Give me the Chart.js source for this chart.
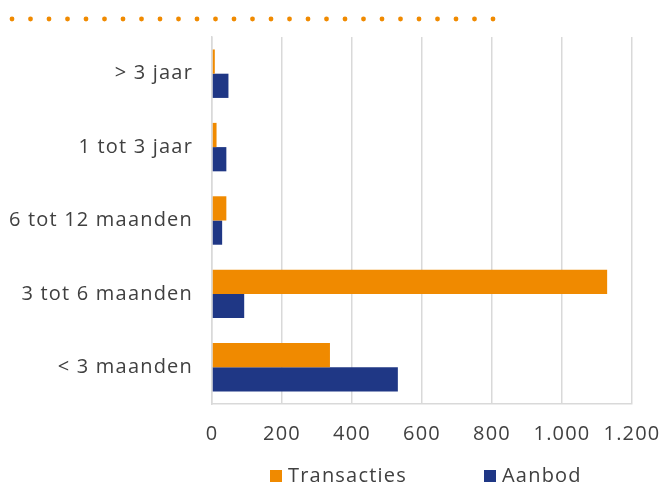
<!DOCTYPE html>
<html>
<head>
<meta charset="utf-8">
<script src="https://cdn.jsdelivr.net/npm/chart.js@4.4.1/dist/chart.umd.min.js"></script>
<style>
  html, body { margin: 0; padding: 0; background: #fff; }
  #wrap { width: 663px; height: 484px; position: relative; }
</style>
</head>
<body>
<div id="wrap"><canvas id="chart"></canvas></div>
<script>
// categories, top to bottom
const categories = ['> 3 jaar', '1 tot 3 jaar', '6 tot 12 maanden', '3 tot 6 maanden', '< 3 maanden'];
const transacties = [8, 13, 41, 1129, 337];
const aanbod = [47, 41, 29, 92, 531];
const xTicks = [0, 200, 400, 600, 800, 1000, 1200];

const ORANGE = '#F08A00';
const BLUE = '#1F3785';
const TEXT = '#404040';
const FONT = '"Open Sans", "DejaVu Sans", sans-serif';
const FONT_SIZE = 20;
const SPACING = '1.2px';

// wider letters, closer to the original geometric font
const letterSpacing = {
    id: 'letterSpacing',
    beforeUpdate: (chart) => { chart.ctx.letterSpacing = SPACING; },
    beforeDraw: (chart) => { chart.ctx.letterSpacing = SPACING; }
};

// dotted orange rule at the very top
const dottedRule = {
    id: 'dottedRule',
    afterDraw: (chart) => {
        const ctx = chart.ctx;
        ctx.save();
        ctx.fillStyle = ORANGE;
        for (let i = 0; i < 27; i++) {
            ctx.beginPath();
            ctx.arc(12 + i * 18.5, 19, 2.4, 0, Math.PI * 2);
            ctx.fill();
        }
        ctx.restore();
    }
};

// wide-spaced legend under the axis (Excel style)
const wideLegend = {
    id: 'wideLegend',
    afterDraw: (chart) => {
        const ctx = chart.ctx;
        const starts = [270, 484];
        const y = 476;
        ctx.save();
        ctx.font = FONT_SIZE + 'px ' + FONT;
        ctx.textBaseline = 'middle';
        ctx.textAlign = 'left';
        chart.data.datasets.forEach((ds, i) => {
            ctx.fillStyle = ds.backgroundColor;
            ctx.fillRect(starts[i], y - 6, 12, 12);
            ctx.fillStyle = TEXT;
            ctx.fillText(ds.label, starts[i] + 18, y);
        });
        ctx.restore();
    }
};

const formatNl = (v) => String(v).replace(/\B(?=(\d{3})+(?!\d))/g, '.');

new Chart(document.getElementById('chart'), {
    type: 'bar',
    data: {
        labels: categories,
        datasets: [
            { label: 'Transacties', data: transacties, backgroundColor: ORANGE, borderWidth: 0 },
            { label: 'Aanbod', data: aanbod, backgroundColor: BLUE, borderWidth: 0 }
        ]
    },
    options: {
        indexAxis: 'y',
        responsive: true,
        maintainAspectRatio: false,
        animation: false,
        layout: { padding: { top: 37, right: 31, left: 0, bottom: 35 } },
        datasets: { bar: { categoryPercentage: 0.66, barPercentage: 1.0 } },
        scales: {
            x: {
                min: 0,
                max: 1200,
                afterBuildTicks: (scale) => { scale.ticks = xTicks.map(v => ({ value: v })); },
                ticks: {
                    color: TEXT,
                    font: { family: FONT, size: FONT_SIZE },
                    padding: 18,
                    maxRotation: 0,
                    callback: (value) => formatNl(value)
                },
                grid: { color: '#D9D9D9', lineWidth: 1.5, drawTicks: false },
                border: { color: '#D9D9D9', width: 1.5 },
                afterFit: (scale) => {
                    scale.height = 45;
                    scale.paddingLeft = 0;
                    scale.paddingRight = 0;
                }
            },
            y: {
                ticks: {
                    color: TEXT,
                    font: { family: FONT, size: FONT_SIZE },
                    padding: 19
                },
                grid: { display: false, drawTicks: false },
                border: { color: '#D9D9D9', width: 1.5 },
                afterFit: (scale) => { scale.width = 212; }
            }
        },
        plugins: {
            legend: { display: false },
            tooltip: { enabled: false }
        }
    },
    plugins: [letterSpacing, dottedRule, wideLegend]
});
</script>
</body>
</html>
